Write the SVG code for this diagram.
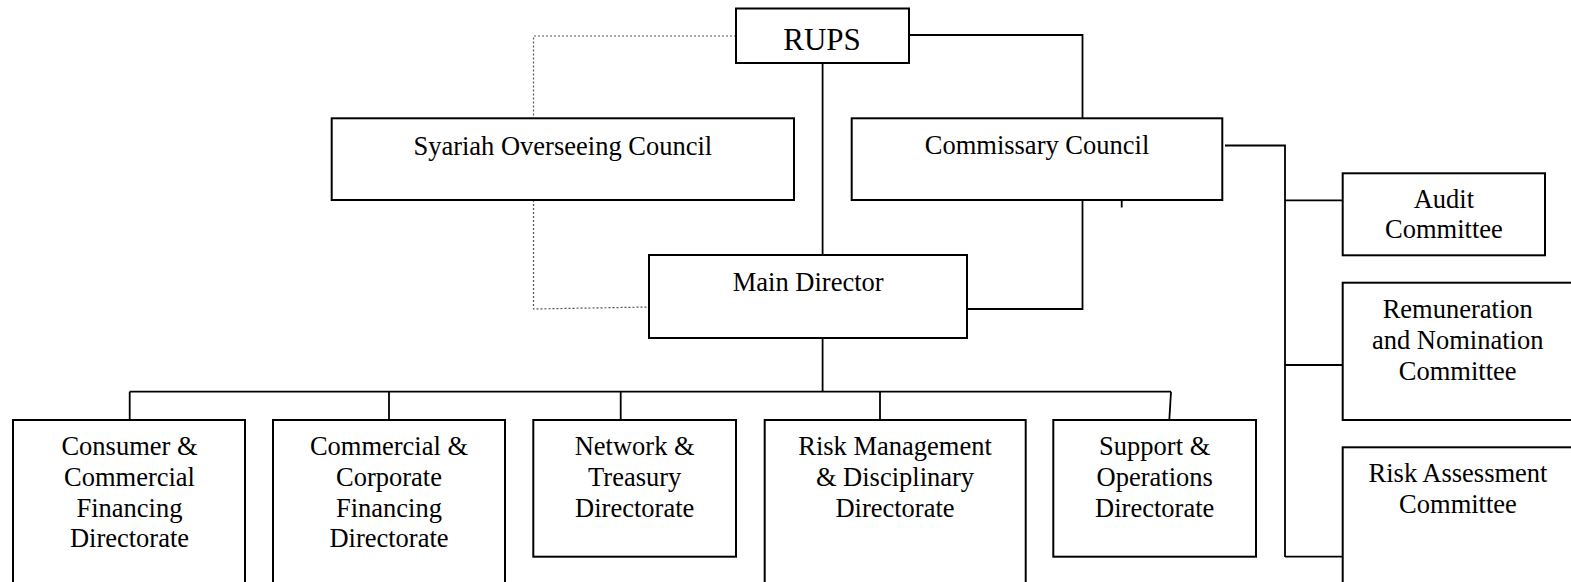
<svg xmlns="http://www.w3.org/2000/svg" width="1571" height="582" viewBox="0 0 1571 582">
<style>
.box{fill:#fff;stroke:#000;stroke-width:2}
.t{font-family:"Liberation Serif","Times New Roman",serif;font-size:26.5px;fill:#000;text-anchor:middle}
.big{font-size:31px}
.c{fill:none;stroke:#000;stroke-width:1.8}
.d{fill:none;stroke:#555;stroke-width:1.2;stroke-dasharray:2 2}
</style>
<rect width="1571" height="582" fill="#fff"/>
<g id="connectors">
<polyline class="d" points="736,36 533.5,36 533.5,118"/>
<polyline class="d" points="533.5,200 533.5,309 649,307"/>
<polyline class="c" points="909,35 1082.5,35 1082.5,118"/>
<line class="c" x1="822.6" y1="63" x2="822.6" y2="255"/>
<polyline class="c" points="967,309 1082.5,309 1082.5,200"/>
<line class="c" x1="1121.7" y1="200" x2="1121.7" y2="207.5"/>
<polyline class="c" points="1225,145.5 1285,145.5 1285,557"/>
<line class="c" x1="1285" y1="200.3" x2="1342.7" y2="200.3"/>
<line class="c" x1="1285" y1="365" x2="1342.7" y2="365"/>
<line class="c" x1="1285" y1="556.7" x2="1342.7" y2="556.7"/>
<line class="c" x1="822.6" y1="338" x2="822.6" y2="391.7"/>
<line class="c" x1="129.7" y1="391.7" x2="1171" y2="391.7"/>
<line class="c" x1="129.7" y1="391.7" x2="129.7" y2="420"/>
<line class="c" x1="389" y1="391.7" x2="389" y2="420"/>
<line class="c" x1="620.7" y1="391.7" x2="620.7" y2="420"/>
<line class="c" x1="880" y1="391.7" x2="880" y2="420"/>
<line class="c" x1="1171" y1="391.7" x2="1169.3" y2="420"/>
</g>
<g id="rups">
<rect class="box" x="736" y="8.5" width="173" height="54.5"/>
<text class="t big" x="822" y="50">RUPS</text>
</g>
<g id="syariah">
<rect class="box" x="331.7" y="118.3" width="462.3" height="81.7"/>
<text class="t" x="562.8" y="155">Syariah Overseeing Council</text>
</g>
<g id="commissary">
<rect class="box" x="851.7" y="118.3" width="370.6" height="81.7"/>
<text class="t" x="1037" y="154.3">Commissary Council</text>
</g>
<g id="main-director">
<rect class="box" x="649" y="255" width="318" height="83"/>
<text class="t" x="808.2" y="291">Main Director</text>
</g>
<g id="audit">
<rect class="box" x="1342.7" y="173.3" width="202.3" height="82"/>
<text class="t" x="1443.9" y="207.7">Audit</text>
<text class="t" x="1443.9" y="238.4">Committee</text>
</g>
<g id="remuneration">
<rect class="box" x="1342.7" y="282.7" width="230.3" height="137.3"/>
<text class="t" x="1457.7" y="318.3">Remuneration</text>
<text class="t" x="1457.7" y="349">and Nomination</text>
<text class="t" x="1457.7" y="379.7">Committee</text>
</g>
<g id="risk-assessment">
<rect class="box" x="1342.7" y="447.3" width="230.3" height="145"/>
<text class="t" x="1458" y="482.3">Risk Assessment</text>
<text class="t" x="1458" y="513">Committee</text>
</g>
<g id="consumer">
<rect class="box" x="13" y="420" width="232" height="172"/>
<text class="t" x="129.5" y="455">Consumer &amp;</text>
<text class="t" x="129.5" y="485.8">Commercial</text>
<text class="t" x="129.5" y="516.6">Financing</text>
<text class="t" x="129.5" y="547.4">Directorate</text>
</g>
<g id="commercial">
<rect class="box" x="273" y="420" width="232" height="172"/>
<text class="t" x="389" y="455">Commercial &amp;</text>
<text class="t" x="389" y="485.8">Corporate</text>
<text class="t" x="389" y="516.6">Financing</text>
<text class="t" x="389" y="547.4">Directorate</text>
</g>
<g id="network">
<rect class="box" x="533.3" y="420" width="202.7" height="136.7"/>
<text class="t" x="634.7" y="455">Network &amp;</text>
<text class="t" x="634.7" y="485.8">Treasury</text>
<text class="t" x="634.7" y="516.6">Directorate</text>
</g>
<g id="risk-management">
<rect class="box" x="764.7" y="420" width="261" height="172"/>
<text class="t" x="895" y="455">Risk Management</text>
<text class="t" x="895" y="485.8">&amp; Disciplinary</text>
<text class="t" x="895" y="516.6">Directorate</text>
</g>
<g id="support">
<rect class="box" x="1053.3" y="420" width="202.7" height="136.7"/>
<text class="t" x="1154.7" y="455">Support &amp;</text>
<text class="t" x="1154.7" y="485.8">Operations</text>
<text class="t" x="1154.7" y="516.6">Directorate</text>
</g>
</svg>
